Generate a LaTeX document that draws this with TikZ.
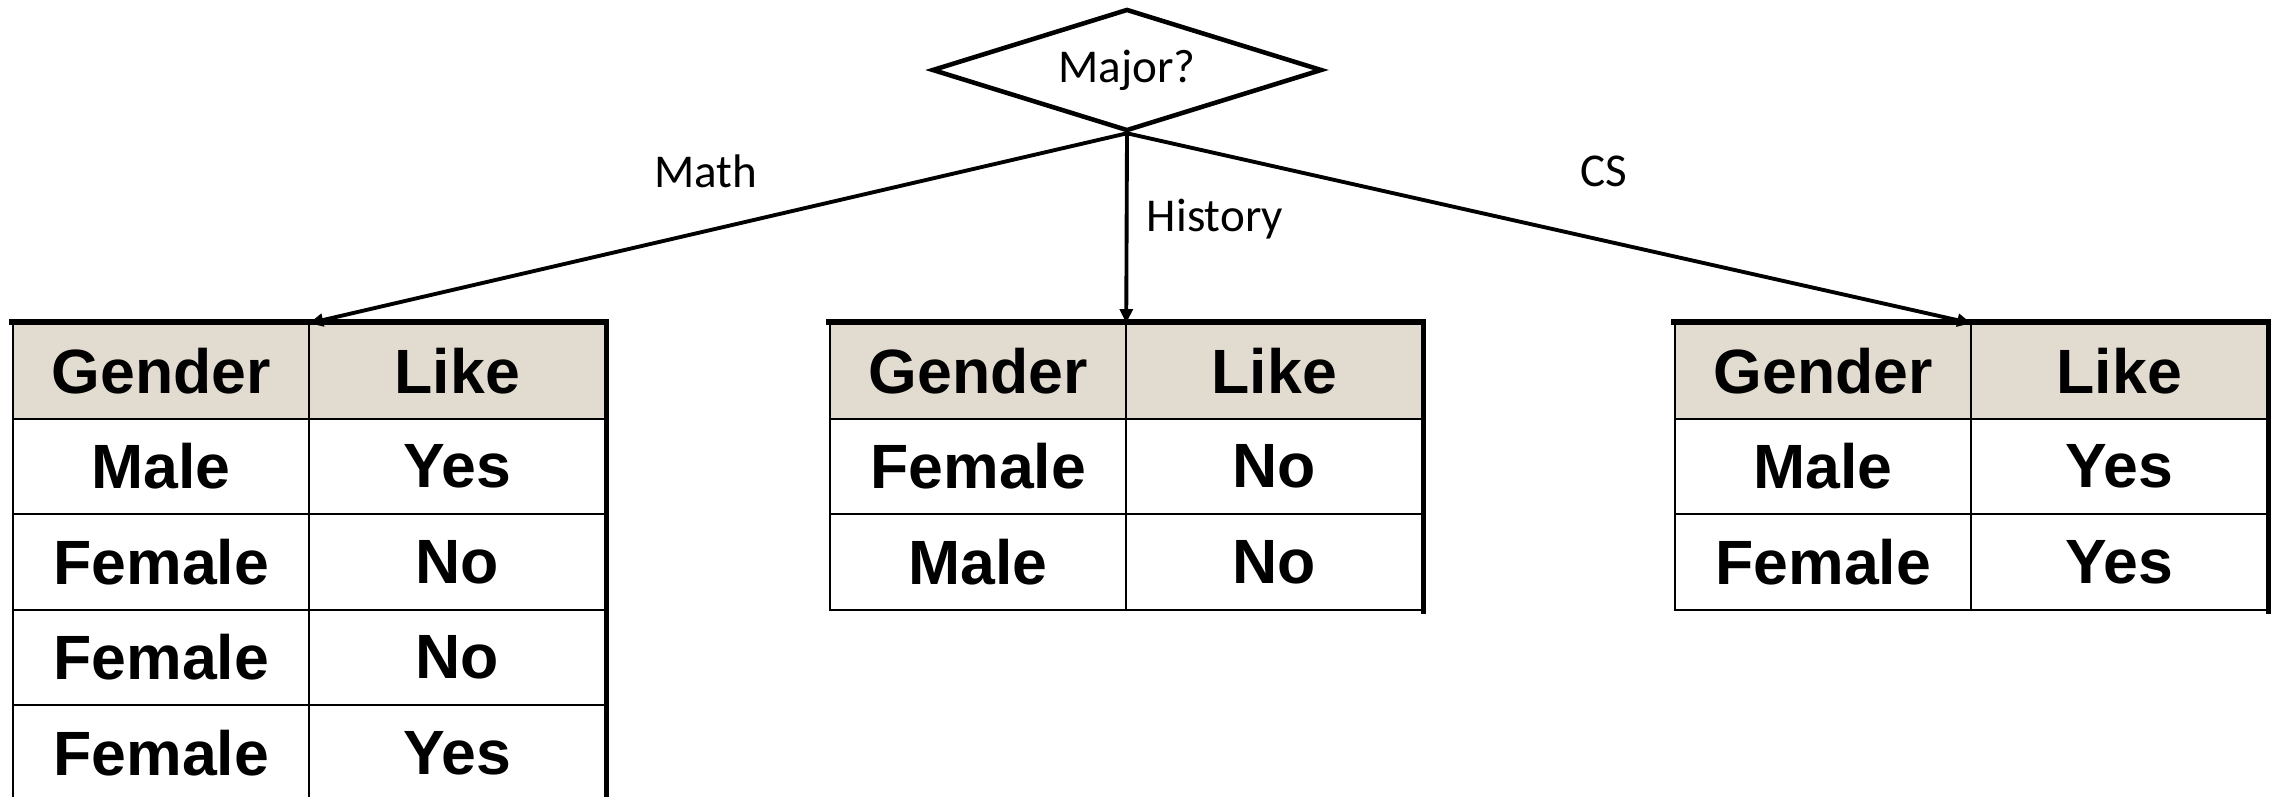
\documentclass[tikz,border=0pt]{standalone}
\usepackage{fontspec}
\usepackage{tikz}
\usetikzlibrary{arrows.meta,shapes.geometric,matrix,positioning}
\newfontfamily\tabfont{Liberation Sans}
\newfontfamily\lblfont{Carlito}
\definecolor{headbg}{RGB}{226,220,208}

\tikzset{
  cell/.style={draw, line width=0.7pt, inner sep=0pt, outer sep=0pt,
    anchor=center, minimum width=2.96cm, minimum height=0.955cm,
    font=\tabfont\bfseries\fontsize{17.8}{20}\selectfont},
  headcell/.style={cell, fill=headbg},
  datatab/.style={matrix of nodes, inner sep=0pt, outer sep=0pt,
    column sep=-0.7pt, row sep=-0.7pt, anchor=north west,
    nodes={cell}, row 1/.style={nodes={headcell}}},
  frame/.style={line width=1.5pt, line cap=rect},
  branch/.style={line width=1.1pt, -{Triangle[length=4pt,width=3.6pt]}},
  lbl/.style={font=\lblfont\fontsize{13.4}{15}\selectfont}
}

\begin{document}
\begin{tikzpicture}
  \clip (0,0) rectangle (22.77,-7.96);

  % Nodes
  \node[draw, shape=diamond, line width=1.3pt, aspect=3.2, inner sep=0pt,
    minimum width=3.9cm, minimum height=1.22cm, lbl] (major) at (11.27,-0.70) {Major?};

  \matrix (math) [datatab] at (0.12,-3.22) {
    Gender & Like \\
    Male & Yes \\
    Female & No \\
    Female & No \\
    Female & Yes \\
  };
  \matrix (hist) [datatab] at (8.29,-3.22) {
    Gender & Like \\
    Female & No \\
    Male & No \\
  };
  \matrix (cs) [datatab] at (16.74,-3.22) {
    Gender & Like \\
    Male & Yes \\
    Female & Yes \\
  };

  % Heavier top and right borders
  \draw[frame] (math.north west) -- (math.north east) -- (math.south east);
  \draw[frame] (hist.north west) -- (hist.north east) -- (hist.south east);
  \draw[frame] (cs.north west) -- (cs.north east) -- (cs.south east);

  % Edges from the split to each table
  \draw[branch] (major.south) -- (math-1-1.north east);
  \draw[branch] (major.south) -- (hist-1-1.north east);
  \draw[branch] (major.south) -- (cs-1-1.north east);

  \node[lbl] (lmath) at (7.06,-1.71) {Math};
  \node[lbl] (lhist) at (12.15,-2.19) {History};
  \node[lbl] (lcs) at (16.04,-1.71) {CS};
\end{tikzpicture}
\end{document}
